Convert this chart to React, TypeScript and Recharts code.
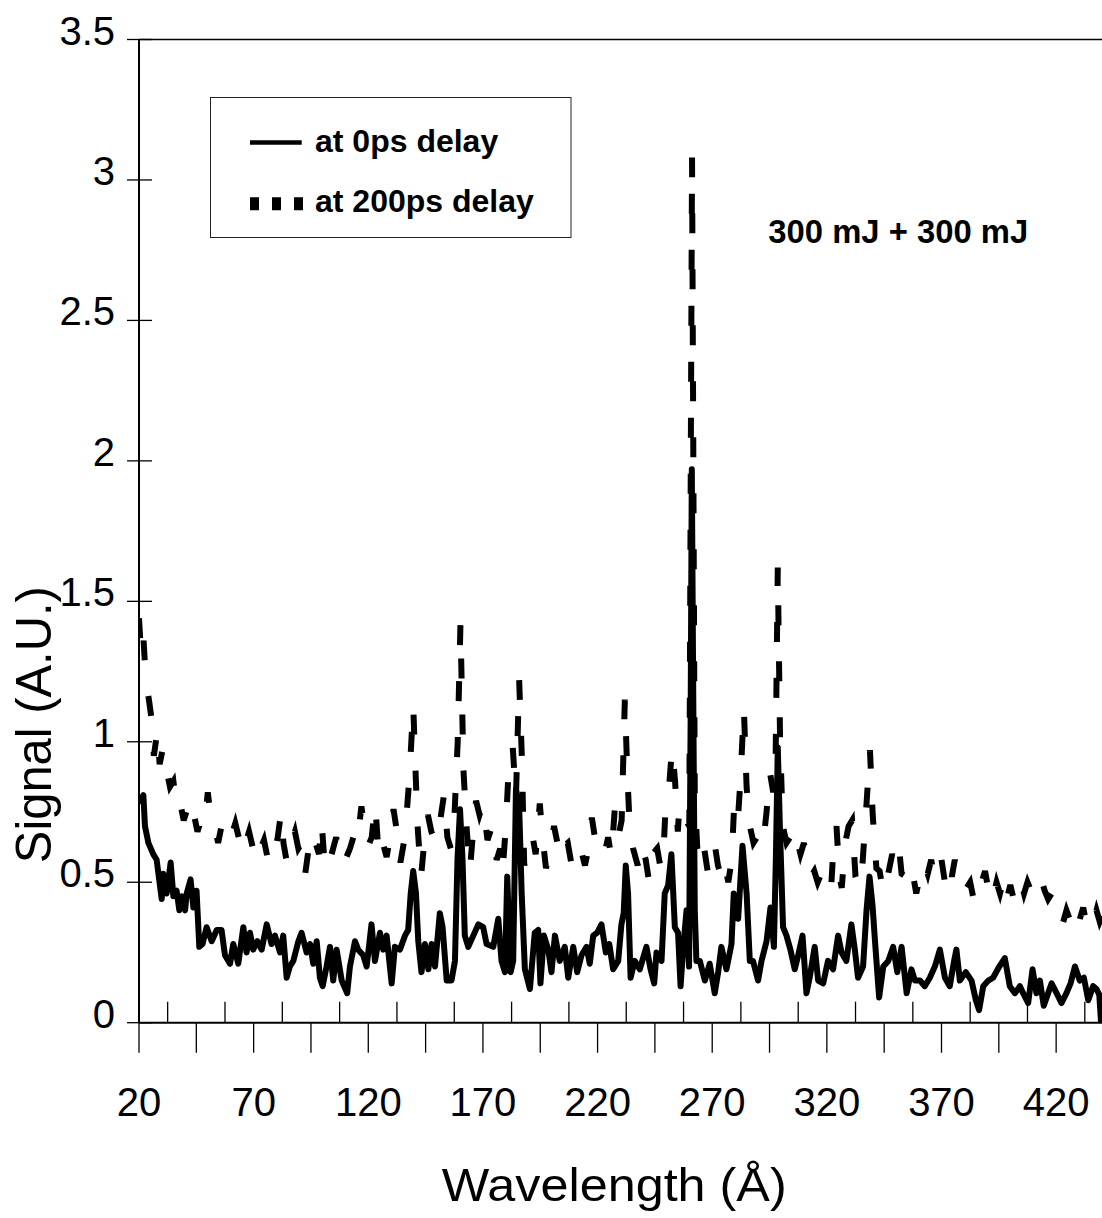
import React from 'react';
import { LineChart, Line, XAxis, YAxis, ReferenceLine, Legend, Label } from 'recharts';

const FONT = '"Liberation Sans", Arial, Helvetica, sans-serif';

// ---- series: signal at 0 ps delay (solid) ----
const wavelength0 = [
  20.0, 21.9, 22.6, 24.1, 26.2, 27.7, 29.9, 30.6, 32.1, 33.8, 35.0, 36.4, 37.6, 38.6, 40.1, 40.8,
  42.5, 43.7, 45.1, 46.3, 47.7, 49.5, 51.7, 53.9, 56.0, 57.5, 59.7, 61.1, 63.3, 65.5, 66.9, 68.4,
  69.8, 71.6, 73.5, 75.7, 77.8, 79.3, 81.5, 82.9, 84.4, 85.8, 87.3, 89.5, 90.9, 93.1, 94.6, 96.0,
  97.5, 98.9, 100.1, 101.8, 103.3, 104.7, 106.2, 108.4, 110.8, 112.0, 114.2, 115.6, 117.8, 119.3,
  121.4, 122.9, 125.1, 126.5, 128.0, 130.2, 131.6, 133.8, 136.0, 137.4, 138.5, 139.6, 140.8, 141.8,
  143.2, 144.7, 146.2, 147.6, 149.1, 151.2, 152.4, 154.2, 156.3, 157.8, 158.9, 160.0, 161.1, 162.1,
  163.6, 165.8, 168.0, 170.1, 171.6, 174.5, 176.7, 178.1, 179.6, 180.6, 182.1, 183.2, 184.4, 185.8,
  186.9, 188.3, 190.5, 192.6, 194.1, 195.1, 196.6, 198.5, 199.9, 201.4, 203.5, 205.7, 207.2, 209.4,
  211.1, 213.0, 215.2, 216.6, 218.1, 219.8, 221.7, 223.6, 225.1, 226.8, 229.0, 230.4, 231.4, 232.3,
  233.3, 234.4, 236.2, 238.4, 241.3, 243.1, 244.7, 245.7, 247.9, 249.3, 250.8, 252.2, 253.7, 255.1,
  256.2, 257.3, 258.8, 259.9, 260.6, 261.1, 261.7, 262.4, 263.1, 264.6, 266.8, 268.9, 271.1, 272.6,
  274.0, 276.2, 278.4, 279.4, 281.3, 283.2, 285.0, 286.4, 287.8, 290.0, 291.5, 293.7, 295.4, 296.9,
  297.8, 298.6, 299.5, 300.9, 302.4, 304.1, 306.0, 307.5, 309.4, 311.1, 312.5, 314.7, 316.2, 318.4,
  320.5, 322.7, 324.9, 326.4, 328.5, 330.7, 332.2, 333.6, 335.8, 337.3, 338.6, 339.9, 341.0, 342.8,
  344.6, 346.8, 348.9, 350.7, 352.6, 354.8, 356.9, 358.4, 360.6, 362.7, 364.9, 367.1, 369.3, 371.5,
  373.6, 375.5, 376.5, 378.0, 380.6, 383.1, 385.0, 386.4, 388.2, 390.4, 392.5, 395.2, 397.6, 399.8,
  402.0, 404.2, 405.6, 407.8, 409.7, 411.4, 412.9, 414.6, 416.5, 418.0, 420.2, 422.3, 424.5, 426.3,
  428.2, 430.3, 432.1, 434.0, 436.1, 437.6, 438.8, 439.6,
];
const signal0 = [
  0.78, 0.81, 0.70, 0.64, 0.60, 0.58, 0.44, 0.53, 0.46, 0.57, 0.45, 0.47, 0.40, 0.45, 0.40, 0.46,
  0.51, 0.41, 0.47, 0.27, 0.28, 0.34, 0.29, 0.33, 0.33, 0.24, 0.21, 0.28, 0.21, 0.34, 0.25, 0.32,
  0.26, 0.29, 0.26, 0.35, 0.28, 0.31, 0.25, 0.31, 0.16, 0.20, 0.22, 0.29, 0.32, 0.25, 0.28, 0.21,
  0.29, 0.16, 0.13, 0.20, 0.27, 0.15, 0.26, 0.15, 0.105, 0.20, 0.29, 0.26, 0.24, 0.20,
  0.35, 0.22, 0.32, 0.26, 0.31, 0.14, 0.27, 0.26, 0.31, 0.33, 0.46, 0.54, 0.46, 0.29,
  0.18, 0.28, 0.19, 0.28, 0.20, 0.39, 0.34, 0.15, 0.15, 0.22, 0.58, 0.76, 0.58, 0.31,
  0.27, 0.31, 0.35, 0.34, 0.28, 0.27, 0.37, 0.22, 0.18, 0.52, 0.18, 0.22, 0.83, 0.77,
  0.46, 0.19, 0.12, 0.32, 0.33, 0.14, 0.31, 0.26, 0.18, 0.31, 0.22, 0.27, 0.16, 0.27,
  0.18, 0.24, 0.27, 0.21, 0.31, 0.32, 0.35, 0.25, 0.28, 0.19, 0.22, 0.35, 0.39, 0.56,
  0.46, 0.16, 0.22, 0.19, 0.27, 0.19, 0.14, 0.25, 0.22, 0.46, 0.49, 0.60, 0.34, 0.32,
  0.13, 0.26, 0.40, 0.20, 1.10, 1.97, 1.20, 0.40, 0.22, 0.22, 0.15, 0.21, 0.105, 0.18,
  0.27, 0.19, 0.28, 0.46, 0.37, 0.63, 0.46, 0.22, 0.22, 0.15, 0.22, 0.29, 0.41, 0.27,
  0.60, 0.98, 0.70, 0.34, 0.31, 0.26, 0.19, 0.24, 0.31, 0.105, 0.16, 0.27, 0.15, 0.14,
  0.22, 0.19, 0.31, 0.25, 0.22, 0.35, 0.26, 0.16, 0.20, 0.40, 0.52, 0.42, 0.29, 0.09,
  0.20, 0.22, 0.27, 0.18, 0.27, 0.105, 0.19, 0.15, 0.15, 0.13, 0.16, 0.20, 0.26, 0.16,
  0.13, 0.22, 0.26, 0.15, 0.18, 0.15, 0.08, 0.045, 0.13, 0.15, 0.16, 0.20, 0.23, 0.13,
  0.105, 0.13, 0.105, 0.07, 0.19, 0.105, 0.15, 0.06, 0.105, 0.14, 0.105, 0.07, 0.105, 0.14,
  0.20, 0.15, 0.16, 0.08, 0.13, 0.12, 0.10, 0.0,
];

// ---- series: signal at 200 ps delay (dashed) ----
const wavelength200 = [
  20, 21, 22, 23, 24.5, 25.5, 26.5, 28, 29, 30.5, 32, 33.5, 35, 36.5, 38, 39.5, 41, 42.5, 44, 45.5,
  47, 48.5, 50, 51.5, 53, 54.5, 56, 57.5, 59, 60.5, 62, 63.5, 65, 66.5, 68, 70, 71.5, 73, 74.5, 76,
  77.5, 79, 80.5, 82, 83, 84.5, 86, 88, 89.5, 91, 92.5, 94, 95.5, 97, 98.5, 99.6, 101, 102.5, 104, 106,
  107.5, 109, 110.5, 112, 113.5, 115, 117, 118.5, 120, 121.5, 123, 124.5, 126, 128, 129.5, 131, 132.5,
  134, 135.5, 136.5, 138, 139.6, 140.5, 141.5, 143, 144.5, 146, 147.5, 149.5, 151, 153, 154.5, 156,
  157.5, 159, 160.2, 161.5, 163, 164.3, 165.5, 167, 168.5, 170, 172, 174, 176, 177.5, 178.5, 180,
  181.5, 183, 184.4, 185.8, 187, 188, 189.5, 191.5, 193, 194.8, 196, 197.5, 199, 201, 202.5, 204,
  205.5, 207, 208.5, 210, 212, 214.5, 216, 217.5, 219, 221, 223, 224.6, 226, 227.5, 229, 230.5,
  231.9, 233, 234, 235.5, 237.5, 239, 241, 242.5, 244, 246, 247.5, 248.6, 249.5, 251, 252.5, 253.8,
  255, 255.6, 257, 258.5, 260, 261.2, 262.4, 263.5, 265, 266.5, 268, 269.5, 271, 272.5, 274, 275.5,
  277, 278.5, 279.5, 281, 282.3, 283.8, 285, 286.4, 288, 289.5, 291, 292.5, 293.7, 295.2, 296.6,
  297.6, 298.6, 299.6, 300.8, 302.4, 304, 305.5, 307, 308.5, 310, 311.5, 313, 314.5, 316, 317.5, 319,
  320.5, 322, 322.7, 324.2, 325.5, 326.5, 328, 329.5, 331, 332.5, 334, 335.5, 337.3, 338.8, 340,
  341.6, 343, 344.7, 346.5, 348.5, 350, 351.5, 352.6, 354.5, 356, 357.5, 359, 360.5, 362.5, 364,
  365.5, 367, 368.5, 370, 371.5, 373, 374.5, 375.8, 377.5, 379.5, 381, 382.5, 384.5, 386, 387.5, 389,
  390.5, 392, 394, 395.5, 397, 398.5, 400, 401.5, 403, 404.5, 406, 407.5, 409, 410.5, 412, 413.5,
  415, 416.5, 418, 419.5, 421, 422.8, 424.5, 426.7, 428.5, 430, 431.8, 433, 434.7, 436, 437.6, 439,
  440,
];
const signal200 = [
  1.44, 1.30, 1.36, 1.22, 1.14, 1.08, 0.95, 1.04, 0.92, 0.98, 0.90, 0.84, 0.86, 0.76, 0.78, 0.72, 0.76, 0.70, 0.74, 0.68,
  0.72, 0.70, 0.82, 0.72, 0.70, 0.64, 0.70, 0.68, 0.71, 0.67, 0.71, 0.66, 0.70, 0.64, 0.68, 0.61, 0.66, 0.62, 0.65, 0.59,
  0.63, 0.60, 0.66, 0.75, 0.64, 0.57, 0.63, 0.68, 0.62, 0.64, 0.53, 0.62, 0.58, 0.64, 0.60, 0.72, 0.56, 0.62, 0.60, 0.66,
  0.60, 0.63, 0.59, 0.62, 0.66, 0.63, 0.77, 0.68, 0.63, 0.66, 0.78, 0.60, 0.65, 0.59, 0.66, 0.76, 0.68,
  0.57, 0.64, 0.72, 0.88, 1.13, 0.92, 0.70, 0.52, 0.65, 0.74, 0.68, 0.64, 0.70, 0.81, 0.66, 0.62,
  0.72, 1.00, 1.42, 0.90, 0.68, 0.54, 0.66, 0.79, 0.74, 0.78, 0.65, 0.70, 0.58, 0.62, 0.53, 0.70,
  0.95, 0.98, 0.80, 1.22, 0.94, 0.56, 0.62, 0.67, 0.60, 0.78, 0.66, 0.55, 0.60, 0.70, 0.64, 0.69,
  0.63, 0.64, 0.57, 0.62, 0.64, 0.56, 0.62, 0.73, 0.65, 0.66, 0.60, 0.66, 0.59, 0.76, 0.66, 0.72,
  1.15, 0.88, 0.70, 0.62, 0.56, 0.64, 0.58, 0.50, 0.60, 0.62, 0.55, 0.58, 0.74, 0.82, 0.98, 0.86,
  0.68, 0.76, 0.70, 0.72, 0.70, 3.08, 0.80, 0.62, 0.56, 0.62, 0.54, 0.60, 0.64, 0.56, 0.52, 0.57,
  0.50, 0.58, 0.76, 0.70, 0.86, 1.12, 0.84, 0.70, 0.64, 0.66, 0.62, 0.66, 0.75, 0.89, 0.82,
  0.90, 1.62, 1.00, 0.70, 0.64, 0.66, 0.61, 0.65, 0.60, 0.64, 0.55, 0.52, 0.54, 0.50, 0.53, 0.49,
  0.53, 0.50, 0.60, 0.70, 0.52, 0.48, 0.64, 0.70, 0.72, 0.52, 0.48, 0.56, 0.78, 0.97, 0.74,
  0.55, 0.54, 0.46, 0.52, 0.60, 0.56, 0.62, 0.53, 0.52, 0.48, 0.53, 0.46, 0.52, 0.57, 0.53,
  0.58, 0.51, 0.56, 0.58, 0.50, 0.57, 0.52, 0.58, 0.50, 0.51, 0.48, 0.50, 0.42, 0.47, 0.50, 0.54,
  0.47, 0.43, 0.50, 0.46, 0.51, 0.44, 0.49, 0.44, 0.48, 0.51, 0.46, 0.50, 0.47, 0.48, 0.46, 0.51,
  0.47, 0.44, 0.46, 0.44, 0.41, 0.35, 0.40, 0.35, 0.40, 0.36, 0.41, 0.36, 0.38, 0.35, 0.40, 0.36,
  0.38,
];

// ---- axes & text ----
const xTicks = [
  20, 32.5, 45, 57.5, 70, 82.5, 95, 107.5, 120, 132.5, 145, 157.5, 170, 182.5, 195, 207.5, 220,
  232.5, 245, 257.5, 270, 282.5, 295, 307.5, 320, 332.5, 345, 357.5, 370, 382.5, 395, 407.5, 420, 432.5,
];
const xMajorTicks = [20, 45, 70, 95, 120, 145, 170, 195, 220, 245, 270, 295, 320, 345, 370, 395, 420];
const xLabels = [20, 70, 120, 170, 220, 270, 320, 370, 420];
const yTicks = [0, 0.5, 1, 1.5, 2, 2.5, 3, 3.5];
const seriesNames = ['at 0ps delay', 'at 200ps delay'];
const annotationText = '300 mJ + 300 mJ';
const xTitle = 'Wavelength (Å)';
const yTitle = 'Signal (A.U.)';

const data0 = wavelength0.map((w, i) => ({ w, v: signal0[i] }));
const data200 = wavelength200.map((w, i) => ({ w, v: signal200[i] }));

const XTick = (props: any) => {
  const { x, y, payload } = props;
  const val = payload.value;
  const major = xMajorTicks.includes(val);
  const labeled = xLabels.includes(val);
  return (
    <g>
      {major ? (
        <line x1={x} x2={x} y1={y} y2={y + 30} stroke="#000" strokeWidth={1.3} />
      ) : (
        <line x1={x} x2={x} y1={y - 21} y2={y} stroke="#000" strokeWidth={1.3} />
      )}
      {labeled && (
        <text x={x} y={y + 93} textAnchor="middle" fontSize={40} fontFamily={FONT} fill="#000">
          {val}
        </text>
      )}
    </g>
  );
};

const YTick = (props: any) => {
  const { x, y, payload } = props;
  return (
    <g>
      <line x1={x - 12} x2={x + 13} y1={y} y2={y} stroke="#000" strokeWidth={1.3} />
      <text x={x - 24} y={y + 5} textAnchor="end" fontSize={40} fontFamily={FONT} fill="#000">
        {payload.value}
      </text>
    </g>
  );
};

const XTitle = () => (
  <text x={441.7} y={1201} fontSize={46} fontFamily={FONT} fill="#000" textLength={345} lengthAdjust="spacingAndGlyphs">
    {xTitle}
  </text>
);

const YTitle = () => (
  <text
    x={51}
    y={724.7}
    transform="rotate(-90, 51, 724.7)"
    textAnchor="middle"
    fontSize={50}
    fontFamily={FONT}
    fill="#000"
    textLength={277}
    lengthAdjust="spacingAndGlyphs"
  >
    {yTitle}
  </text>
);

const Annotation = () => (
  <text x={768.3} y={243.3} fontSize={33} fontWeight={700} fontFamily={FONT} fill="#000" textLength={260} lengthAdjust="spacingAndGlyphs">
    {annotationText}
  </text>
);

const LegendBox = () => (
  <svg width={362} height={142} style={{ display: 'block', overflow: 'visible' }}>
    <rect x={0.5} y={0.5} width={360.5} height={140} fill="#fff" stroke="#222" strokeWidth={1} />
    <line x1={40} x2={91.7} y1={45.6} y2={45.6} stroke="#000" strokeWidth={4.5} />
    <text x={105} y={55} fontSize={32} fontWeight={700} fontFamily={FONT} fill="#000">
      {seriesNames[0]}
    </text>
    <line x1={40} x2={93} y1={106.7} y2={106.7} stroke="#000" strokeWidth={13} strokeDasharray="9 13" />
    <text x={105} y={115} fontSize={32} fontWeight={700} fontFamily={FONT} fill="#000">
      {seriesNames[1]}
    </text>
  </svg>
);

export default function App() {
  return (
    <div style={{ position: 'absolute', left: 0, top: 0, width: 1102, height: 1218, background: '#fff', overflow: 'hidden' }}>
      <LineChart width={1102} height={1218} margin={{ top: 39.5, right: 0, bottom: 0, left: 0 }}>
        <XAxis
          dataKey="w"
          type="number"
          domain={[20, 440]}
          allowDataOverflow
          ticks={xTicks}
          interval={0}
          tickSize={0}
          tickMargin={0}
          tickLine={false}
          tick={(p: any) => <XTick {...p} />}
          axisLine={{ stroke: '#000', strokeWidth: 2 }}
          height={195.3}
        >
          <Label content={() => <XTitle />} />
        </XAxis>
        <YAxis
          type="number"
          domain={[0, 3.5]}
          ticks={yTicks}
          interval={0}
          width={139}
          tickSize={0}
          tickMargin={0}
          tickLine={false}
          tick={(p: any) => <YTick {...p} />}
          axisLine={{ stroke: '#000', strokeWidth: 2 }}
        >
          <Label content={() => <YTitle />} />
        </YAxis>
        <ReferenceLine y={3.5} stroke="#000" strokeWidth={1.5} label={() => <Annotation />} />
        <Line
          data={data0}
          dataKey="v"
          name={seriesNames[0]}
          type="linear"
          stroke="#000"
          strokeWidth={6}
          strokeLinejoin="round"
          dot={false}
          activeDot={false}
          isAnimationActive={false}
        />
        <Line
          data={data200}
          dataKey="v"
          name={seriesNames[1]}
          type="linear"
          stroke="#000"
          strokeWidth={6}
          strokeDasharray="20 36"
          dot={false}
          activeDot={false}
          isAnimationActive={false}
        />
        <Legend
          layout="horizontal"
          verticalAlign="middle"
          align="center"
          content={() => <LegendBox />}
          wrapperStyle={{ position: 'absolute', left: 209.5, top: 96.5, width: 362, height: 142, margin: 0, padding: 0 }}
        />
      </LineChart>
    </div>
  );
}
